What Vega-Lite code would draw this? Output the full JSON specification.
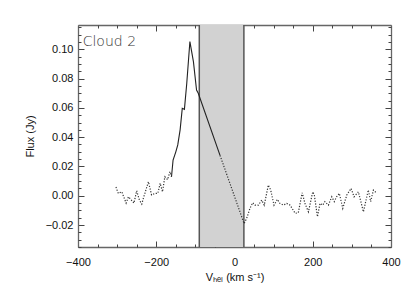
{
  "$schema": "https://vega.github.io/schema/vega-lite/v6.json",
  "width": 313,
  "height": 222,
  "autosize": {"type": "none"},
  "padding": {"left": 78, "top": 25, "right": 24, "bottom": 50},
  "background": "white",
  "datasets": {
    "region": [{"vmin": -90, "vmax": 24, "ftop": 0.1166, "fbot": -0.035}],
    "spec": [
      {"part": "dotL", "v": -303, "f": 0.006},
      {"part": "dotL", "v": -297, "f": 0.0016},
      {"part": "dotL", "v": -288, "f": 0.0027},
      {"part": "dotL", "v": -277, "f": -0.005},
      {"part": "dotL", "v": -271, "f": -0.0007},
      {"part": "dotL", "v": -265, "f": -0.0025},
      {"part": "dotL", "v": -257, "f": -0.005},
      {"part": "dotL", "v": -250, "f": 0.0034},
      {"part": "dotL", "v": -243, "f": -0.003},
      {"part": "dotL", "v": -237, "f": -0.0057},
      {"part": "dotL", "v": -233, "f": -0.0018},
      {"part": "dotL", "v": -220, "f": 0.0096},
      {"part": "dotL", "v": -212, "f": 0.0005},
      {"part": "dotL", "v": -203, "f": 0.0016},
      {"part": "dotL", "v": -196, "f": 0.0016},
      {"part": "dotL", "v": -190, "f": 0.0085},
      {"part": "dotL", "v": -184, "f": 0.0027},
      {"part": "dotL", "v": -178, "f": 0.013},
      {"part": "dotL", "v": -171, "f": 0.011},
      {"part": "dotL", "v": -165, "f": 0.0164},
      {"part": "dotL", "v": -161, "f": 0.013},
      {"part": "solid", "v": -161, "f": 0.013},
      {"part": "solid", "v": -157, "f": 0.0244},
      {"part": "solid", "v": -150, "f": 0.030},
      {"part": "solid", "v": -145, "f": 0.0347},
      {"part": "solid", "v": -139, "f": 0.045},
      {"part": "solid", "v": -133.5, "f": 0.0597},
      {"part": "solid", "v": -128, "f": 0.059},
      {"part": "solid", "v": -122, "f": 0.0768},
      {"part": "solid", "v": -114, "f": 0.1053},
      {"part": "solid", "v": -105, "f": 0.0916},
      {"part": "solid", "v": -97, "f": 0.0722},
      {"part": "solid", "v": -92.6, "f": 0.070},
      {"part": "solid", "v": -37, "f": 0.0276},
      {"part": "dotR", "v": -37, "f": 0.0276},
      {"part": "dotR", "v": 24.5, "f": -0.019},
      {"part": "dotR", "v": 31, "f": -0.0155},
      {"part": "dotR", "v": 39.6, "f": -0.0086},
      {"part": "dotR", "v": 46.5, "f": -0.0048},
      {"part": "dotR", "v": 52, "f": -0.0064},
      {"part": "dotR", "v": 61, "f": -0.0064},
      {"part": "dotR", "v": 69.6, "f": -0.003},
      {"part": "dotR", "v": 76, "f": -0.0064},
      {"part": "dotR", "v": 86.5, "f": 0.0073},
      {"part": "dotR", "v": 92.5, "f": 0.0039},
      {"part": "dotR", "v": 101, "f": -0.0064},
      {"part": "dotR", "v": 109.5, "f": -0.0025},
      {"part": "dotR", "v": 116, "f": -0.0052},
      {"part": "dotR", "v": 125, "f": -0.0064},
      {"part": "dotR", "v": 133.5, "f": -0.0052},
      {"part": "dotR", "v": 142, "f": -0.0064},
      {"part": "dotR", "v": 155, "f": -0.012},
      {"part": "dotR", "v": 163, "f": -0.0116},
      {"part": "dotR", "v": 173, "f": 0.002},
      {"part": "dotR", "v": 180, "f": -0.0052},
      {"part": "dotR", "v": 189, "f": -0.011},
      {"part": "dotR", "v": 200, "f": 0.0027},
      {"part": "dotR", "v": 204, "f": 0.0005},
      {"part": "dotR", "v": 212, "f": -0.0143},
      {"part": "dotR", "v": 218.6, "f": -0.0052},
      {"part": "dotR", "v": 225.5, "f": -0.0064},
      {"part": "dotR", "v": 231, "f": -0.004},
      {"part": "dotR", "v": 240, "f": -0.0064},
      {"part": "dotR", "v": 248.6, "f": -0.0007},
      {"part": "dotR", "v": 255, "f": -0.004},
      {"part": "dotR", "v": 261, "f": -0.0007},
      {"part": "dotR", "v": 268, "f": 0.0016},
      {"part": "dotR", "v": 276.7, "f": -0.0086},
      {"part": "dotR", "v": 287, "f": 0.0005},
      {"part": "dotR", "v": 298, "f": 0.005},
      {"part": "dotR", "v": 305.6, "f": -0.0007},
      {"part": "dotR", "v": 316.6, "f": 0.0027},
      {"part": "dotR", "v": 329.5, "f": -0.011},
      {"part": "dotR", "v": 342, "f": 0.0039},
      {"part": "dotR", "v": 348, "f": -0.004},
      {"part": "dotR", "v": 355, "f": 0.0039},
      {"part": "dotR", "v": 364, "f": 0.0016}
    ],
    "label": [{"v": -388, "f": 0.105, "t": "Cloud  2"}]
  },
  "resolve": {"axis": {"x": "independent", "y": "independent"}},
  "layer": [
    {
      "data": {"name": "region"},
      "mark": {"type": "rect", "fill": "#d2d2d2"},
      "encoding": {
        "x": {"field": "vmin", "type": "quantitative", "scale": {"domain": [-400, 400], "nice": false, "zero": false},
          "axis": {"orient": "bottom", "values": [-400, -200, 0, 200, 400], "tickSize": -6, "labelPadding": 15, "title": "Vₕₑₗ (km s⁻¹)", "titlePadding": 4}},
        "x2": {"field": "vmax"},
        "y": {"field": "ftop", "type": "quantitative", "scale": {"domain": [-0.035, 0.1166], "nice": false, "zero": false},
          "axis": {"orient": "left", "values": [-0.02, 0, 0.02, 0.04, 0.06, 0.08, 0.1], "format": ".2f", "tickSize": -6, "labelPadding": 11, "title": "Flux (Jy)", "titlePadding": 10}},
        "y2": {"field": "fbot"}
      }
    },
    {
      "data": {"name": "region"},
      "mark": {"type": "rule", "stroke": "#555", "strokeWidth": 1.5},
      "encoding": {
        "x": {"field": "vmin", "type": "quantitative", "scale": {"domain": [-400, 400], "nice": false, "zero": false},
          "axis": {"orient": "bottom", "values": [-350, -300, -250, -150, -100, -50, 50, 100, 150, 250, 300, 350], "tickSize": -3, "labels": false, "title": null, "domain": false}}
      }
    },
    {
      "data": {"name": "region"},
      "mark": {"type": "rule", "stroke": "#555", "strokeWidth": 1.5},
      "encoding": {
        "x": {"field": "vmax", "type": "quantitative", "scale": {"domain": [-400, 400], "nice": false, "zero": false},
          "axis": {"orient": "top", "values": [-400, -200, 0, 200, 400], "tickSize": -6, "labels": false, "title": null}}
      }
    },
    {
      "data": {"name": "spec"},
      "transform": [{"filter": "datum.part === 'solid'"}],
      "mark": {"type": "line", "stroke": "#222", "strokeWidth": 1.1},
      "encoding": {
        "x": {"field": "v", "type": "quantitative", "sort": null, "scale": {"domain": [-400, 400], "nice": false, "zero": false},
          "axis": {"orient": "top", "values": [-350, -300, -250, -150, -100, -50, 50, 100, 150, 250, 300, 350], "tickSize": -3, "labels": false, "title": null, "domain": false}},
        "y": {"field": "f", "type": "quantitative", "scale": {"domain": [-0.035, 0.1166], "nice": false, "zero": false},
          "axis": {"orient": "left", "values": [-0.035, -0.03, -0.025, -0.015, -0.01, -0.005, 0.005, 0.01, 0.015, 0.025, 0.03, 0.035, 0.045, 0.05, 0.055, 0.065, 0.07, 0.075, 0.085, 0.09, 0.095, 0.105, 0.11, 0.115], "tickSize": -3, "labels": false, "title": null, "domain": false}}
      }
    },
    {
      "data": {"name": "spec"},
      "transform": [{"filter": "datum.part !== 'solid'"}],
      "mark": {"type": "line", "stroke": "#333", "strokeWidth": 1.2, "strokeDash": [1.2, 1.6]},
      "encoding": {
        "detail": {"field": "part"},
        "x": {"field": "v", "type": "quantitative", "sort": null, "scale": {"domain": [-400, 400], "nice": false, "zero": false}, "axis": null},
        "y": {"field": "f", "type": "quantitative", "scale": {"domain": [-0.035, 0.1166], "nice": false, "zero": false},
          "axis": {"orient": "right", "values": [-0.02, 0, 0.02, 0.04, 0.06, 0.08, 0.1], "tickSize": -6, "labels": false, "title": null}}
      }
    },
    {
      "data": {"name": "label"},
      "mark": {"type": "text", "align": "left", "baseline": "middle", "font": "DejaVu Sans", "fontWeight": 200, "fontSize": 14, "color": "#333"},
      "encoding": {
        "text": {"field": "t"},
        "x": {"field": "v", "type": "quantitative", "scale": {"domain": [-400, 400], "nice": false, "zero": false}, "axis": null},
        "y": {"field": "f", "type": "quantitative", "scale": {"domain": [-0.035, 0.1166], "nice": false, "zero": false},
          "axis": {"orient": "right", "values": [-0.035, -0.03, -0.025, -0.015, -0.01, -0.005, 0.005, 0.01, 0.015, 0.025, 0.03, 0.035, 0.045, 0.05, 0.055, 0.065, 0.07, 0.075, 0.085, 0.09, 0.095, 0.105, 0.11, 0.115], "tickSize": -3, "labels": false, "title": null, "domain": false}}
      }
    }
  ],
  "config": {
    "view": {"stroke": null},
    "axis": {
      "grid": false,
      "domainColor": "#666",
      "domainWidth": 1.3,
      "tickColor": "#444",
      "tickWidth": 1,
      "labelFont": "Liberation Sans",
      "labelFontSize": 11,
      "labelColor": "#111",
      "labelFlush": false,
      "labelOverlap": false,
      "titleFont": "Liberation Sans",
      "titleFontSize": 11,
      "titleFontWeight": "normal",
      "titleColor": "#111"
    }
  }
}
